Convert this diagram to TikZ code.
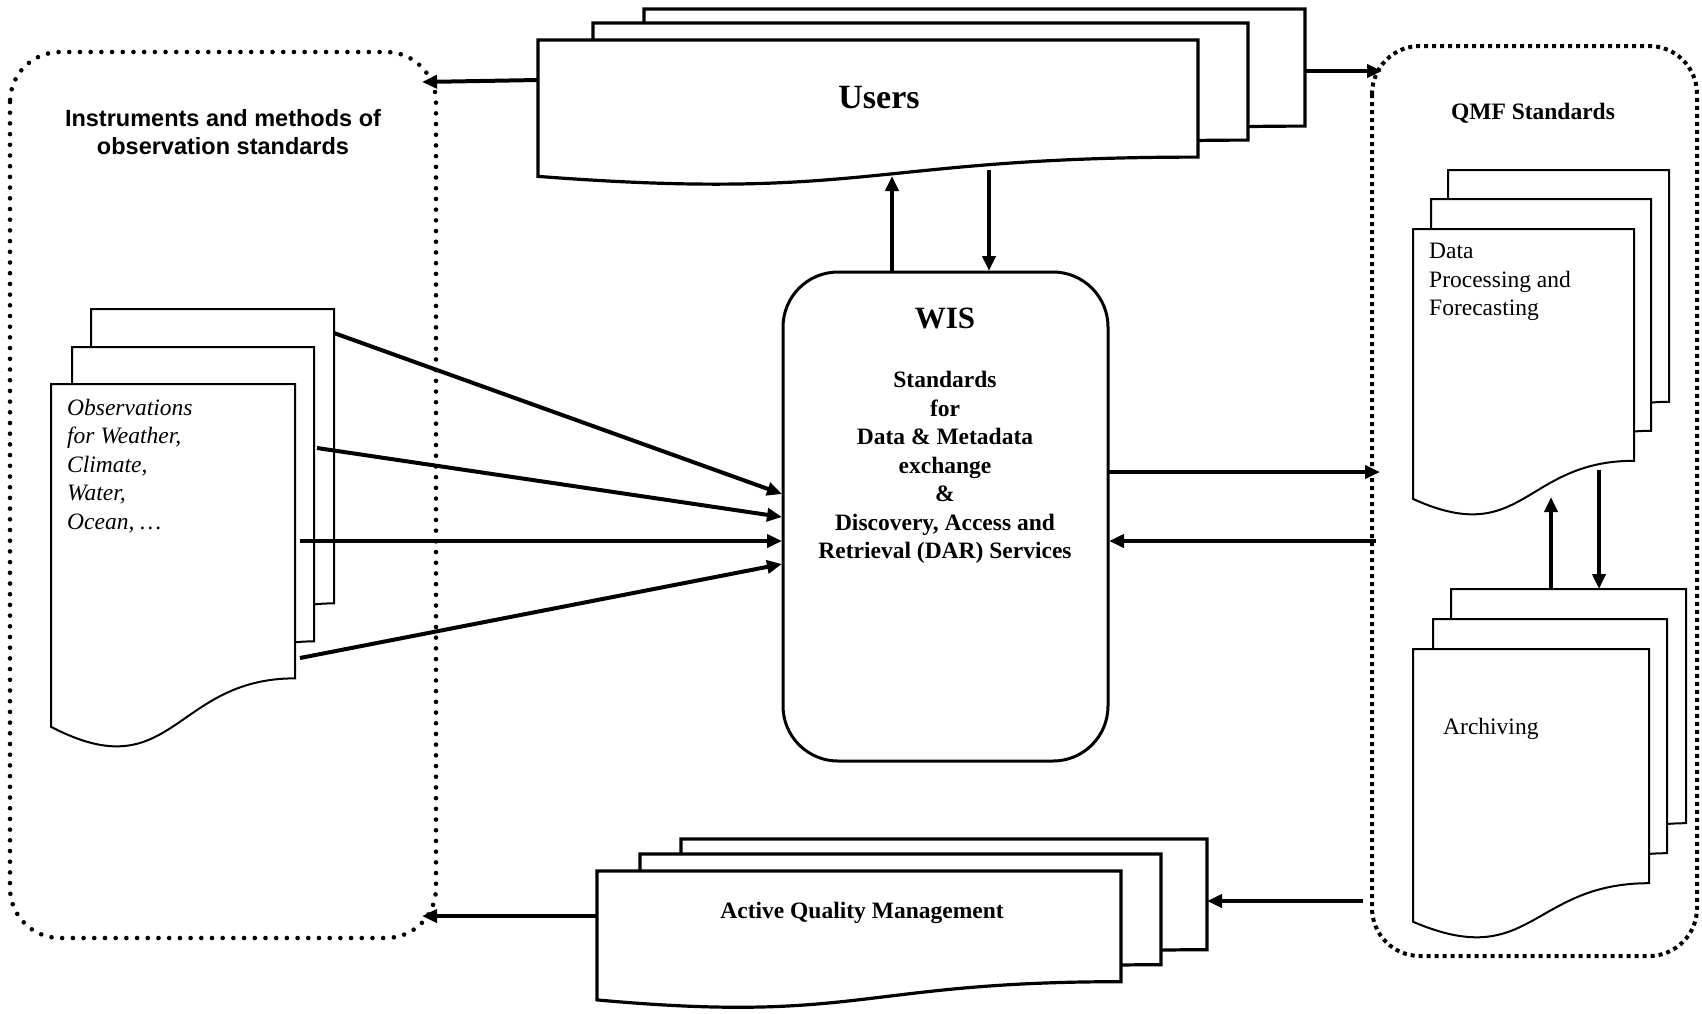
\documentclass[tikz,border=0pt]{standalone}
\usepackage{fontspec}
\setmainfont{Liberation Serif}
\newfontfamily\arialfont{Liberation Sans}
\usetikzlibrary{arrows.meta}
% document shape: style, x, y, w, h  (pixel coordinates, y downwards)
\newcommand{\docshape}[5]{%
  \draw[#1] (#2,#3) -- ({#2+#4},#3) -- ({#2+#4},{#3+0.802*#5})
    .. controls ({#2+0.5*#4},{#3+0.802*#5}) and ({#2+0.5*#4},{#3+1.1075*#5}) ..
    (#2,{#3+0.934*#5}) -- cycle;}
\begin{document}
\begin{tikzpicture}[x=1pt,y=-1pt,
  arr/.style={line width=4pt,-{Triangle[length=15pt,width=13pt]}},
  thickdoc/.style={fill=white,line width=3.2pt,line join=miter},
  thindoc/.style={fill=white,line width=2pt,line join=miter},
  roundbox/.style={line width=4.6pt,dash pattern=on 0pt off 10.7pt,line cap=round,rounded corners=50pt},
  squarebox/.style={line width=4pt,dash pattern=on 4pt off 4pt,rounded corners=48pt},
  txt/.style={inner sep=0pt,font=\fontsize{23.5}{28.5}\selectfont},
  btxt/.style={inner sep=0pt,font=\fontsize{23.5}{28.5}\selectfont\bfseries},
]
\useasboundingbox (0,0) rectangle (1702,1013);
\fill[white] (0,0) rectangle (1702,1013);

% dotted group boxes
\draw[roundbox] (10,52) rectangle (436,938);
\draw[squarebox] (1372,46) rectangle (1697,956);

% Users stack
\docshape{thickdoc}{644}{9}{661}{146}
\docshape{thickdoc}{593}{23}{655}{146}
\docshape{thickdoc}{538}{40}{660}{146}
\node[inner sep=0pt,font=\fontsize{34}{40}\selectfont\bfseries] (users) at (879,98) {Users};

% Active Quality Management stack
\docshape{thickdoc}{681}{839}{526}{138}
\docshape{thickdoc}{640}{854}{521}{138}
\docshape{thickdoc}{597}{871}{524}{138}
\node[btxt] (aqm) at (862,913) {Active Quality Management};

% Observations stack
\docshape{thindoc}{91}{309}{243}{367}
\docshape{thindoc}{72}{347}{242}{367}
\docshape{thindoc}{51}{384}{244}{367}
\node[txt,anchor=west,align=left,font=\fontsize{23.5}{28.5}\selectfont\itshape] (obs) at (67,466)
  {Observations\\for Weather,\\Climate,\\Water,\\Ocean, \dots};

% Data processing stack
\docshape{thindoc}{1448}{170}{221}{289}
\docshape{thindoc}{1431}{199}{220}{289}
\docshape{thindoc}{1413}{229}{221}{289}
\node[txt,anchor=west,align=left] (dpf) at (1429,282) {Data\\Processing and\\Forecasting};

% Archiving stack
\docshape{thindoc}{1451}{589}{235}{292}
\docshape{thindoc}{1433}{619}{234}{292}
\docshape{thindoc}{1413}{649}{236}{292}
\node[txt,anchor=west] (arch) at (1443,729) {Archiving};

% group titles
\node[inner sep=0pt,align=center,font=\arialfont\fontsize{23.5}{28}\selectfont\bfseries] (instr) at (223,132)
  {Instruments and methods of\\observation standards};
\node[btxt] (qmf) at (1533,113) {QMF Standards};

% WIS box
\node[draw,line width=3pt,rounded corners=55pt,minimum width=325pt,minimum height=489pt,inner sep=0pt] (wis) at (945.5,516.5) {};
\node[inner sep=0pt,font=\fontsize{31}{36}\selectfont\bfseries] (wistitle) at (945,318) {WIS};
\node[btxt,align=center] (wistext) at (945,467.5)
  {Standards\\for\\Data \& Metadata\\exchange\\\&\\Discovery, Access and\\Retrieval (DAR) Services};

% connector end points
\coordinate (uL) at (538,80);   \coordinate (ibTR) at (422,82);
\coordinate (uR) at (1305,71);  \coordinate (qTL) at (1382,71);
\coordinate (wT1) at (892,271); \coordinate (uB1) at (892,176);
\coordinate (uB2) at (989,170); \coordinate (wT2) at (989,271);
\coordinate (o1) at (334,333);  \coordinate (w1) at (782,494);
\coordinate (o2) at (317,448);  \coordinate (w2) at (782,517);
\coordinate (o3) at (300,541);  \coordinate (w3) at (782,541);
\coordinate (o4) at (300,658);  \coordinate (w4) at (782,564);
\coordinate (wR1) at (1108,472); \coordinate (qL1) at (1380,472);
\coordinate (qL2) at (1376,541); \coordinate (wR2) at (1109,541);
\coordinate (aT) at (1551,589); \coordinate (dB) at (1551,497);
\coordinate (dB2) at (1599,470); \coordinate (aT2) at (1599,589);
\coordinate (qL3) at (1363,901); \coordinate (aqR) at (1207,901);
\coordinate (aqL) at (597,916); \coordinate (ibR) at (422,916);

% connectors
\draw[arr] (uL) -- (ibTR);
\draw[arr] (uR) -- (qTL);
\draw[arr] (wT1) -- (uB1);
\draw[arr] (uB2) -- (wT2);
\draw[arr] (o1) -- (w1);
\draw[arr] (o2) -- (w2);
\draw[arr] (o3) -- (w3);
\draw[arr] (o4) -- (w4);
\draw[arr] (wR1) -- (qL1);
\draw[arr] (qL2) -- (wR2);
\draw[arr] (aT) -- (dB);
\draw[arr] (dB2) -- (aT2);
\draw[arr] (qL3) -- (aqR);
\draw[arr] (aqL) -- (ibR);
\end{tikzpicture}
\end{document}
